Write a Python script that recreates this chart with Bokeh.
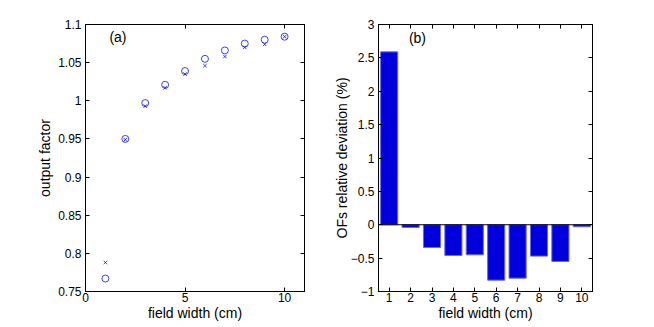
from bokeh.plotting import figure
from bokeh.layouts import row
from bokeh.models import (LinearAxis, FixedTicker, Range1d, Span, Label,
                          CustomLabelingPolicy)
from bokeh.embed import file_html
from bokeh.resources import INLINE

FONT = "Liberation Sans"

# ---- data ----
field_width = [1, 2, 3, 4, 5, 6, 7, 8, 9, 10]
of_circle = [0.767, 0.950, 0.997, 1.021, 1.039, 1.055, 1.066, 1.075, 1.080, 1.084]
of_cross = [0.788, 0.949, 0.993, 1.017, 1.035, 1.046, 1.058, 1.070, 1.074, 1.084]
deviation = [2.59, -0.04, -0.34, -0.46, -0.45, -0.83, -0.80, -0.47, -0.55, -0.03]

a_xticks = [0, 5, 10]
a_xtick_labels = ["0", "5", "10"]
a_yticks = [0.75, 0.8, 0.85, 0.9, 0.95, 1.0, 1.05, 1.1]
a_ytick_labels = ["0.75", "0.8", "0.85", "0.9", "0.95", "1", "1.05", "1.1"]
b_xticks = [1, 2, 3, 4, 5, 6, 7, 8, 9, 10]
b_xtick_labels = ["1", "2", "3", "4", "5", "6", "7", "8", "9", "10"]
b_yticks = [-1, -0.5, 0, 0.5, 1, 1.5, 2, 2.5, 3]
b_ytick_labels = ["\u22121", "\u22120.5", "0", "0.5", "1", "1.5", "2", "2.5", "3"]

HIDE_ALL = "for (const i of indices) { indices.unset(i) }\nreturn indices"


def style_axis(ax, ticks, labels=None):
    ax.ticker = FixedTicker(ticks=ticks)
    ax.major_tick_in = 4
    ax.major_tick_out = 0
    ax.minor_tick_in = 0
    ax.minor_tick_out = 0
    ax.axis_line_color = "black"
    ax.major_tick_line_color = "black"
    ax.major_label_text_font = FONT
    ax.major_label_text_color = "black"
    ax.axis_label_text_font = FONT
    ax.axis_label_text_font_size = "14px"
    ax.axis_label_text_font_style = "normal"
    ax.axis_label_text_color = "black"
    if labels is None:
        ax.major_label_text_font_size = "1px"
        ax.major_label_standoff = 0
        ax.major_label_policy = CustomLabelingPolicy(code=HIDE_ALL)
    else:
        ax.major_label_text_font_size = "12px"
        ax.major_label_overrides = {t: l for t, l in zip(ticks, labels)}
        ax.major_label_standoff = 4


def base_fig(width, xr, yr, left, right):
    p = figure(width=width, height=327, x_range=xr, y_range=yr,
               output_backend="svg", toolbar_location=None,
               min_border_left=left, min_border_right=right,
               min_border_top=24, min_border_bottom=36)
    p.xgrid.visible = False
    p.ygrid.visible = False
    p.outline_line_color = "black"
    p.outline_line_alpha = 1
    p.background_fill_color = "white"
    p.border_fill_color = "white"
    return p


# ---- (a) ----
pa = base_fig(330, Range1d(0, 11), Range1d(0.75, 1.1), 85, 26)
pa.scatter(field_width, of_circle, marker="circle", size=7, fill_color=None,
           line_color="#0000ff", line_alpha=0.75, line_width=1)
pa.scatter(field_width, of_cross, marker="x", size=5,
           line_color="#0000ff", line_alpha=0.75, line_width=1)
style_axis(pa.xaxis[0], a_xticks, a_xtick_labels)
style_axis(pa.yaxis[0], a_yticks, a_ytick_labels)
pa.xaxis[0].major_label_standoff = 1
pa.xaxis[0].axis_label = "field width (cm)"
pa.xaxis[0].axis_label_standoff = 0
pa.yaxis[0].axis_label = "output factor"
pa.yaxis[0].axis_label_standoff = 2
ta = LinearAxis()
style_axis(ta, a_xticks)
pa.add_layout(ta, "above")
ra = LinearAxis()
style_axis(ra, a_yticks)
pa.add_layout(ra, "right")
pa.add_layout(Label(x=1.2, y=1.084, text="(a)", text_font=FONT,
                    text_font_size="14px", text_baseline="middle",
                    text_color="black"))

# ---- (b) ----
pb = base_fig(324, Range1d(0.5, 10.5), Range1d(-1, 3), 43, 62)
pb.vbar(x=field_width, top=deviation, bottom=0, width=0.8,
        fill_color="#0000dd", line_color="#6666ee", line_width=1)
pb.add_layout(Span(location=0, dimension="width", line_color="black",
                   line_width=1))
style_axis(pb.xaxis[0], b_xticks, b_xtick_labels)
style_axis(pb.yaxis[0], b_yticks, b_ytick_labels)
pb.xaxis[0].major_label_standoff = 1
pb.xaxis[0].axis_label = "field width (cm)"
pb.xaxis[0].axis_label_standoff = 0
pb.yaxis[0].axis_label = "OFs relative deviation (%)"
pb.yaxis[0].axis_label_standoff = -2
tb = LinearAxis()
style_axis(tb, b_xticks)
pb.add_layout(tb, "above")
rb = LinearAxis()
style_axis(rb, b_yticks)
pb.add_layout(rb, "right")
pb.add_layout(Label(x=1.92, y=2.805, text="(b)", text_font=FONT,
                    text_font_size="14px", text_baseline="middle",
                    text_color="black"))

layout = row(pa, pb)
open("out.html", "w").write(file_html(layout, INLINE))
